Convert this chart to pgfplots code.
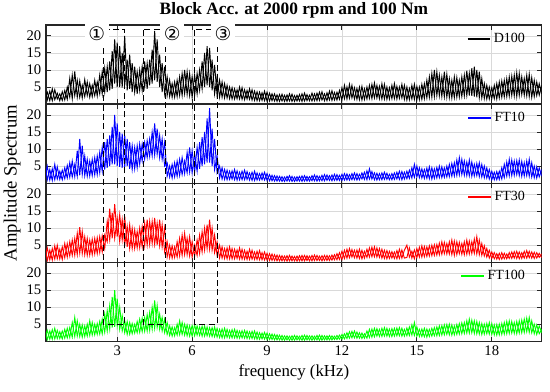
\documentclass[border=0pt]{standalone}
\usepackage{fontspec}
\setmainfont{Liberation Serif}
\newfontfamily\symfont{DejaVu Sans}
\usepackage{pgfplots}
\pgfplotsset{compat=1.18}
\usepackage{pgfplotstable}
\usetikzlibrary{calc}

% columns: f, four series (pass a), and the same four series (pass b, opposite phase)
\pgfplotstableread{
f d100 ft10 ft30 ft100 d100b ft10b ft30b ft100b
0.1 5.0 6.0 5.0 3.5 1.5 1.2 0.8 0.6
0.2 1.2 1.0 0.5 0.5 3.5 5.0 4.2 3.2
0.3 3.8 4.0 3.5 3.0 1.0 0.9 0.7 0.6
0.4 1.0 0.8 0.6 0.6 4.5 4.2 4.0 3.4
0.5 4.2 5.5 4.8 3.8 1.3 1.0 0.9 0.7
0.6 1.5 1.2 1.0 0.8 3.2 4.8 5.0 3.2
0.7 3.0 3.5 3.8 2.8 1.0 1.1 1.0 0.8
0.8 1.1 1.0 0.8 0.7 3.6 3.8 4.5 3.0
0.9 4.0 4.5 5.5 3.5 1.2 1.3 1.3 0.9
1.0 1.4 1.5 1.5 1.0 5.0 5.2 5.5 3.8
1.1 7.5 6.0 6.0 4.0 2.0 1.7 1.8 1.1
1.2 1.6 1.8 2.0 1.2 8.5 6.5 6.5 5.5
1.3 9.6 5.5 7.0 7.0 2.5 1.9 2.0 1.4
1.4 2.0 2.0 2.2 1.5 7.0 9.5 8.5 6.0
1.5 6.8 13.0 10.3 5.0 2.0 2.3 2.6 1.4
1.6 1.8 2.5 2.5 1.2 5.5 11.0 9.0 4.8
1.7 7.2 8.0 7.5 4.5 2.2 2.2 2.2 1.4
1.8 2.5 2.0 2.0 1.5 6.5 7.0 7.0 5.0
1.9 6.0 6.5 6.5 6.0 2.0 2.1 2.1 1.7
2.0 2.2 2.2 2.2 1.8 5.5 7.0 6.8 5.5
2.1 7.0 7.5 7.0 5.0 2.5 2.4 2.4 1.9
2.2 2.4 2.5 2.5 2.0 6.5 8.0 7.2 5.2
2.3 8.5 9.0 7.5 5.8 3.0 3.0 2.8 2.1
2.4 3.0 3.5 3.0 2.2 9.5 10.5 7.8 6.5
2.5 10.5 12.0 8.0 8.0 3.5 4.0 4.0 2.6
2.6 3.5 4.5 6.0 3.0 11.0 13.0 12.0 9.0
2.7 12.5 14.0 15.7 10.5 4.0 5.0 6.5 3.5
2.8 4.5 5.5 7.0 4.0 15.5 16.5 14.5 13.0
2.9 19.0 20.0 17.0 15.0 6.0 5.5 7.0 4.2
3.0 5.0 5.0 7.5 4.5 18.0 17.5 13.0 12.5
3.1 17.0 15.0 14.0 10.0 5.0 4.8 6.0 3.5
3.2 4.8 4.5 6.5 3.0 15.0 14.5 12.5 7.5
3.3 20.0 14.0 13.5 6.0 5.5 4.8 5.0 2.5
3.4 4.0 5.0 4.5 2.0 13.0 13.0 10.5 5.8
3.5 14.5 12.0 11.0 5.5 4.5 4.2 4.0 2.1
3.6 3.5 4.0 4.0 2.2 12.0 11.0 10.0 5.2
3.7 11.0 10.5 9.5 5.0 3.5 4.2 4.0 2.4
3.8 3.0 4.5 4.2 2.5 9.5 11.0 9.0 5.8
3.9 10.0 11.5 10.0 6.5 4.0 5.5 4.2 2.6
4.0 4.0 6.5 4.5 2.8 11.0 11.5 10.5 6.8
4.1 12.5 12.0 11.5 7.0 5.0 7.0 4.8 2.9
4.2 4.5 7.5 5.0 3.0 12.0 12.5 12.5 7.8
4.3 13.0 13.0 12.0 8.5 5.5 7.8 5.2 3.2
4.4 6.0 8.0 5.5 3.5 16.0 15.0 12.0 10.0
4.5 21.5 17.5 13.0 12.0 7.0 8.2 5.2 3.8
4.6 6.5 8.5 5.0 4.0 19.0 16.0 11.5 10.5
4.7 14.5 14.0 12.5 8.0 5.0 7.5 4.8 3.5
4.8 3.5 7.0 4.5 3.0 12.0 13.0 11.0 7.0
4.9 11.0 12.0 10.0 6.5 3.0 5.0 3.0 2.5
5.0 2.5 2.0 1.5 2.0 8.0 6.0 6.0 5.5
5.1 7.0 5.0 5.0 4.5 2.2 1.8 1.3 1.7
5.2 2.0 1.5 1.2 1.5 6.0 5.5 4.8 4.2
5.3 6.5 6.0 4.5 4.0 2.0 1.8 1.4 1.6
5.4 2.2 2.0 1.5 1.8 7.0 6.5 6.0 5.0
5.5 8.0 7.0 7.0 6.0 2.5 2.2 1.8 1.9
5.6 2.5 2.5 2.0 2.0 9.0 7.5 8.0 5.5
5.7 10.0 6.5 8.5 5.0 3.0 2.8 2.2 1.8
5.8 2.8 3.0 2.2 1.6 9.5 9.0 7.0 4.8
5.9 9.0 10.5 7.5 4.5 2.5 3.2 1.8 1.5
6.0 2.0 3.0 1.5 1.5 8.0 9.5 6.0 4.6
6.1 8.5 8.5 5.0 4.8 2.5 3.2 1.8 1.6
6.2 3.0 3.5 2.0 1.8 9.0 10.5 6.5 4.5
6.3 10.0 12.0 8.0 4.2 4.0 4.2 2.5 1.7
6.4 4.5 5.0 3.0 1.5 12.5 13.5 9.0 4.4
6.5 15.0 15.0 10.0 4.5 5.0 5.5 3.5 1.5
6.6 5.5 6.0 4.0 1.6 17.0 19.0 11.0 4.2
6.7 16.5 22.0 12.5 4.0 5.0 6.0 3.8 1.5
6.8 4.0 5.0 3.5 1.4 13.0 16.0 10.0 4.0
6.9 11.5 13.0 8.0 4.2 3.0 4.0 2.8 1.3
7.0 2.5 3.0 2.0 1.2 8.0 8.0 6.0 3.8
7.1 7.0 5.0 5.0 3.5 2.0 1.5 1.2 1.1
7.2 2.0 1.2 1.2 1.0 6.5 4.5 4.5 3.6
7.3 6.0 4.0 4.0 3.8 1.8 1.1 1.1 1.0
7.4 1.8 1.0 1.0 1.1 5.5 3.8 4.2 3.5
7.5 5.0 3.5 4.5 3.2 1.6 1.1 1.0 1.0
7.6 1.5 1.2 1.0 1.0 4.8 3.6 4.0 3.4
7.7 4.5 4.0 3.8 3.5 1.5 1.0 1.0 1.0
7.8 1.6 0.9 1.1 0.9 4.2 3.6 3.6 3.2
7.9 5.0 3.2 4.2 3.0 1.5 1.0 0.9 0.9
8.0 1.4 1.0 0.9 1.0 4.8 3.5 3.8 3.1
8.1 4.2 3.8 3.5 3.2 1.3 1.0 0.9 0.9
8.2 1.5 1.1 0.8 0.8 4.0 3.4 3.2 3.0
8.3 4.5 3.0 3.8 2.8 1.4 0.9 0.8 0.8
8.4 1.2 0.8 0.9 0.8 4.2 3.2 3.5 2.9
8.5 3.8 3.5 3.0 3.0 1.1 0.8 0.8 0.7
8.6 1.0 0.9 0.8 0.6 3.6 3.0 3.2 2.7
8.7 3.5 2.8 3.4 2.5 1.0 0.9 0.7 0.6
8.8 1.1 1.0 0.7 0.7 3.3 3.0 2.8 2.4
8.9 3.8 3.2 3.0 2.6 1.0 0.9 0.6 0.6
9.0 0.9 0.8 0.6 0.5 3.5 2.8 2.6 2.4
9.1 3.2 2.5 2.5 2.2 0.9 0.7 0.5 0.5
9.2 1.0 0.7 0.5 0.5 3.0 2.3 2.4 2.1
9.3 3.0 2.2 2.2 2.0 0.9 0.6 0.5 0.4
9.4 0.8 0.6 0.4 0.4 2.7 2.1 2.1 1.9
9.5 2.8 2.0 2.0 1.8 0.8 0.6 0.4 0.4
9.6 0.9 0.5 0.4 0.3 2.9 1.9 1.9 1.7
9.7 2.6 1.8 1.8 1.6 0.8 0.5 0.4 0.3
9.8 0.8 0.6 0.3 0.4 2.7 2.0 1.9 1.6
9.9 3.0 2.2 2.0 1.5 0.9 0.6 0.4 0.3
10.0 0.8 0.5 0.4 0.3 2.9 2.0 1.8 1.6
10.1 2.5 1.8 1.7 1.7 0.8 0.5 0.4 0.3
10.2 0.9 0.6 0.3 0.4 2.6 1.9 1.8 1.6
10.3 2.8 2.0 1.9 1.5 0.9 0.6 0.4 0.4
10.4 0.8 0.5 0.4 0.3 3.0 2.1 2.0 1.7
10.5 3.2 2.2 2.0 1.8 0.9 0.6 0.4 0.3
10.6 1.0 0.6 0.5 0.4 2.8 2.0 1.9 1.7
10.7 2.6 1.9 1.8 1.6 1.0 0.6 0.4 0.4
10.8 0.9 0.7 0.4 0.3 3.2 2.2 2.0 1.6
10.9 3.0 2.4 2.1 1.5 1.0 0.7 0.5 0.4
11.0 1.0 0.6 0.5 0.4 3.2 2.2 2.0 1.7
11.1 3.5 2.0 1.8 1.8 1.1 0.7 0.5 0.3
11.2 1.2 0.7 0.4 0.3 3.6 2.3 1.9 1.7
11.3 3.0 2.5 2.0 1.6 1.0 0.7 0.5 0.4
11.4 1.0 0.8 0.5 0.4 3.3 2.4 2.0 1.6
11.5 3.8 2.2 1.9 1.7 1.2 0.8 0.5 0.4
11.6 1.1 0.7 0.6 0.4 3.9 2.4 2.1 1.6
11.7 3.4 2.6 2.2 1.5 1.2 0.8 0.7 0.5
11.8 1.2 0.8 0.7 0.5 3.5 2.5 2.5 1.7
11.9 4.0 2.3 2.8 1.8 1.4 0.8 0.8 0.6
12.0 1.3 0.8 0.8 0.6 4.8 2.6 3.2 2.0
12.1 5.5 2.8 3.5 2.2 1.6 0.9 1.1 0.7
12.2 1.5 0.9 1.2 0.8 5.0 2.7 3.8 2.5
12.3 5.8 2.5 4.0 2.8 1.7 0.9 1.3 0.9
12.4 1.8 1.0 1.5 1.0 5.5 2.8 3.7 2.9
12.5 4.8 3.0 3.5 3.0 1.5 1.0 1.3 1.0
12.6 1.4 0.9 1.2 0.9 4.6 2.8 3.6 2.7
12.7 5.0 2.6 3.8 2.5 1.3 1.0 1.1 0.9
12.8 1.2 1.2 1.0 0.8 5.2 3.0 3.5 2.4
12.9 4.5 3.2 3.2 2.2 1.4 1.1 1.2 0.9
13.0 1.5 1.0 1.4 0.9 5.0 3.6 3.8 3.0
13.1 5.5 4.2 4.2 3.5 1.7 1.2 1.5 1.1
13.2 1.6 1.2 1.6 1.2 5.8 3.4 4.4 3.6
13.3 6.2 3.0 4.5 3.8 1.8 1.0 1.6 1.3
13.4 1.8 0.9 1.5 1.5 5.5 2.9 4.2 3.7
13.5 5.2 2.8 4.0 3.5 1.6 1.0 1.4 1.4
13.6 1.5 1.0 1.2 1.4 6.0 3.0 3.8 3.8
13.7 5.8 3.2 3.5 4.0 1.5 1.1 1.1 1.5
13.8 1.4 1.1 1.0 1.5 5.0 2.9 3.4 3.8
13.9 4.8 2.6 3.2 3.6 1.5 1.0 1.1 1.4
14.0 1.6 1.0 1.2 1.4 5.5 2.8 3.1 3.7
14.1 6.0 3.0 3.0 3.8 1.6 1.1 1.1 1.5
14.2 1.5 1.2 1.0 1.6 5.2 3.2 3.4 3.9
14.3 5.0 3.5 3.8 4.0 1.7 1.1 1.1 1.6
14.4 1.8 1.0 1.2 1.5 5.8 3.4 3.6 3.8
14.5 5.5 3.2 3.5 3.5 1.4 1.2 1.2 1.5
14.6 1.2 1.3 5.0 1.6 5.0 3.5 1.4 3.9
14.7 4.6 3.8 1.5 4.2 1.3 1.4 4.2 1.7
14.8 1.5 1.5 3.2 1.8 5.5 4.5 1.2 4.8
14.9 5.8 5.5 1.0 5.5 1.4 1.7 3.6 1.7
15.0 1.2 1.8 4.0 1.5 5.2 5.0 1.3 4.2
15.1 5.0 4.5 1.5 3.5 1.3 1.6 4.4 1.4
15.2 1.4 1.5 4.8 1.4 5.8 4.2 1.5 3.6
15.3 6.0 4.0 1.6 3.8 1.6 1.4 4.6 1.3
15.4 1.8 1.4 4.5 1.2 7.0 4.4 1.7 3.6
15.5 8.0 4.8 1.8 3.5 2.0 1.3 4.8 1.4
15.6 2.0 1.2 5.0 1.5 9.0 4.5 1.9 3.8
15.7 10.0 4.2 2.0 4.0 2.2 1.4 5.1 1.6
15.8 2.5 1.5 5.2 1.6 9.5 4.6 2.1 4.2
15.9 8.5 5.0 2.2 4.5 2.4 1.6 5.6 1.7
16.0 2.2 1.6 6.0 1.8 8.0 4.8 2.3 4.6
16.1 9.5 4.5 2.5 4.8 2.1 1.7 5.8 1.9
16.2 2.0 1.8 5.5 2.0 8.8 5.0 2.4 4.9
16.3 7.5 5.5 2.4 5.0 1.9 1.9 6.0 1.9
16.4 1.8 2.0 6.5 1.8 7.0 5.8 2.2 4.8
16.5 8.0 6.0 2.0 4.5 1.9 2.1 6.2 1.9
16.6 2.0 2.2 6.0 2.0 7.8 6.8 2.2 4.9
16.7 7.0 7.5 2.5 5.2 2.1 2.4 5.8 2.1
16.8 2.2 2.5 5.5 2.2 8.0 7.0 2.3 5.4
16.9 8.5 6.5 2.2 5.5 2.4 2.3 6.0 2.3
17.0 2.5 2.2 6.5 2.4 9.8 6.2 2.3 6.0
17.1 9.0 6.8 2.4 6.5 2.5 2.1 6.2 2.4
17.2 2.4 2.0 6.0 2.5 10.5 6.2 2.5 6.2
17.3 11.0 5.5 2.6 6.0 2.2 2.1 6.8 2.3
17.4 2.0 2.2 7.5 2.2 10.0 5.8 2.4 5.8
17.5 9.5 6.0 2.2 5.5 1.9 1.9 6.5 2.1
17.6 1.8 1.8 5.5 2.0 7.5 5.5 2.0 5.2
17.7 6.0 5.0 1.8 5.0 1.6 1.6 4.8 2.1
17.8 1.5 1.5 4.0 2.2 5.5 4.5 1.5 5.2
17.9 5.0 4.0 1.2 5.5 1.5 1.2 3.5 2.1
18.0 1.6 1.0 3.0 2.0 4.8 3.5 1.1 5.2
18.1 5.5 3.2 1.0 4.8 1.6 1.0 2.8 1.9
18.2 1.5 1.0 2.5 1.8 6.0 3.4 0.9 4.9
18.3 6.5 3.5 0.8 5.0 1.8 1.1 2.6 1.9
18.4 2.0 1.2 2.8 2.0 6.8 4.5 0.9 5.2
18.5 7.0 5.5 1.0 5.5 2.1 1.6 2.6 2.1
18.6 2.2 2.0 2.4 2.2 7.5 6.2 1.0 5.8
18.7 8.0 7.0 1.1 6.0 2.3 2.1 2.8 2.3
18.8 2.5 2.2 3.0 2.4 8.2 6.8 1.1 5.8
18.9 8.5 6.5 1.2 5.5 2.4 2.3 3.1 2.3
19.0 2.2 2.5 3.2 2.2 9.2 6.6 1.1 5.8
19.1 9.0 6.8 1.0 6.0 2.5 2.2 3.0 2.4
19.2 2.8 2.0 2.8 2.5 8.0 6.4 1.1 6.2
19.3 7.5 6.0 1.2 6.5 2.6 2.1 3.2 2.6
19.4 2.4 2.2 3.4 2.8 8.5 6.5 1.2 6.8
19.5 8.8 7.0 1.3 7.0 2.2 2.0 3.2 2.6
19.6 2.0 1.8 3.0 2.5 7.8 6.0 1.2 6.0
19.7 7.0 5.0 1.1 5.0 2.2 1.6 2.9 2.2
19.8 2.5 1.5 2.8 2.0 6.5 4.8 1.2 4.8
19.9 6.0 4.5 1.4 4.5 2.6 1.8 2.6 2.2
20.0 3.0 2.0 2.5 2.5 5.5 4.0 1.3 3.5
}\spec

\begin{document}
\begin{tikzpicture}
\pgfplotsset{
  panel/.style={
    scale only axis, width=371.5pt, height=59.25pt,
    xmin=0.15, xmax=20, ymin=0, ymax=23.2,
    xtick={3,6,...,18}, ytick={5,10,15,20},
    grid=major, major grid style={black!15, line width=0.6pt},
    tick align=inside, tick pos=both,
    axis line style={line width=0.9pt, black!85},
    major tick length=3.5pt,
    tick style={line width=0.7pt, black!85},
    ticklabel style={font=\fontsize{11}{12}\selectfont},
    /pgf/number format/assume math mode=true,
    legend style={draw=none, fill=none, at={(0.972,0.825)}, anchor=east,
      font=\fontsize{10.5}{12}\selectfont, inner sep=0pt},
    legend image post style={line width=1.2pt},
    legend cell align=left,
  },
  spec/.style={line width=0.7pt},
}
\begin{axis}[panel, name=a1, xticklabels={},
  title={\textbf{Block Acc. at 2000 rpm and 100 Nm}},
  title style={font=\fontsize{13}{14}\selectfont, yshift=-4.5pt}]
\addplot[spec, black] table[x=f, y=d100]{\spec};
\addlegendentry{D100}
\addplot[spec, black, forget plot] table[x=f, y=d100b]{\spec};
\coordinate (t1) at (axis cs:2.44,21.8);
\coordinate (t2) at (axis cs:4.04,21.8);
\coordinate (t3) at (axis cs:6.11,21.8);
\coordinate (l1) at (axis cs:2.18,20.7);
\coordinate (l2) at (axis cs:5.20,20.7);
\coordinate (l3) at (axis cs:7.24,20.7);
\end{axis}
\begin{axis}[panel, name=a2, at={(a1.south west)}, anchor=north west, xticklabels={}]
\addplot[spec, blue] table[x=f, y=ft10]{\spec};
\addlegendentry{FT10}
\addplot[spec, blue, forget plot] table[x=f, y=ft10b]{\spec};
\end{axis}
\begin{axis}[panel, name=a3, at={(a2.south west)}, anchor=north west, xticklabels={}]
\addplot[spec, red] table[x=f, y=ft30]{\spec};
\addlegendentry{FT30}
\addplot[spec, red, forget plot] table[x=f, y=ft30b]{\spec};
\end{axis}
\begin{axis}[panel, name=a4, at={(a3.south west)}, anchor=north west,
  xlabel={frequency (kHz)}, xlabel style={font=\fontsize{12.6}{14}\selectfont}]
\addplot[spec, green] table[x=f, y=ft100]{\spec};
\addlegendentry{FT100}
\addplot[spec, green, forget plot] table[x=f, y=ft100b]{\spec};
\coordinate (b1) at (axis cs:3.31,5);
\coordinate (b2) at (axis cs:4.92,5);
\coordinate (b3) at (axis cs:7.00,5);
\end{axis}
\foreach \i in {1,2,3}{
  \draw[black, line width=0.8pt, dash pattern=on 4.5pt off 2.5pt] (t\i) rectangle (b\i);
}
\foreach \i/\s in {1/①,2/②,3/③}{
  \node[fill=white, inner sep=0pt, minimum width=18pt, minimum height=20pt,
        font=\symfont\fontsize{14}{14}\selectfont] at (l\i) {\s};
}
\node[rotate=90, font=\fontsize{14}{16}\selectfont]
  at ($(a1.north west)!0.5!(a4.south west) + (-25.5pt,0)$) {Amplitude Spectrum};
\pgfresetboundingbox
\path[use as bounding box] ($(a1.north west)+(-34.5pt,18.75pt)$) rectangle ($(a4.south east)+(6.2pt,-37.5pt)$);
\end{tikzpicture}
\end{document}
